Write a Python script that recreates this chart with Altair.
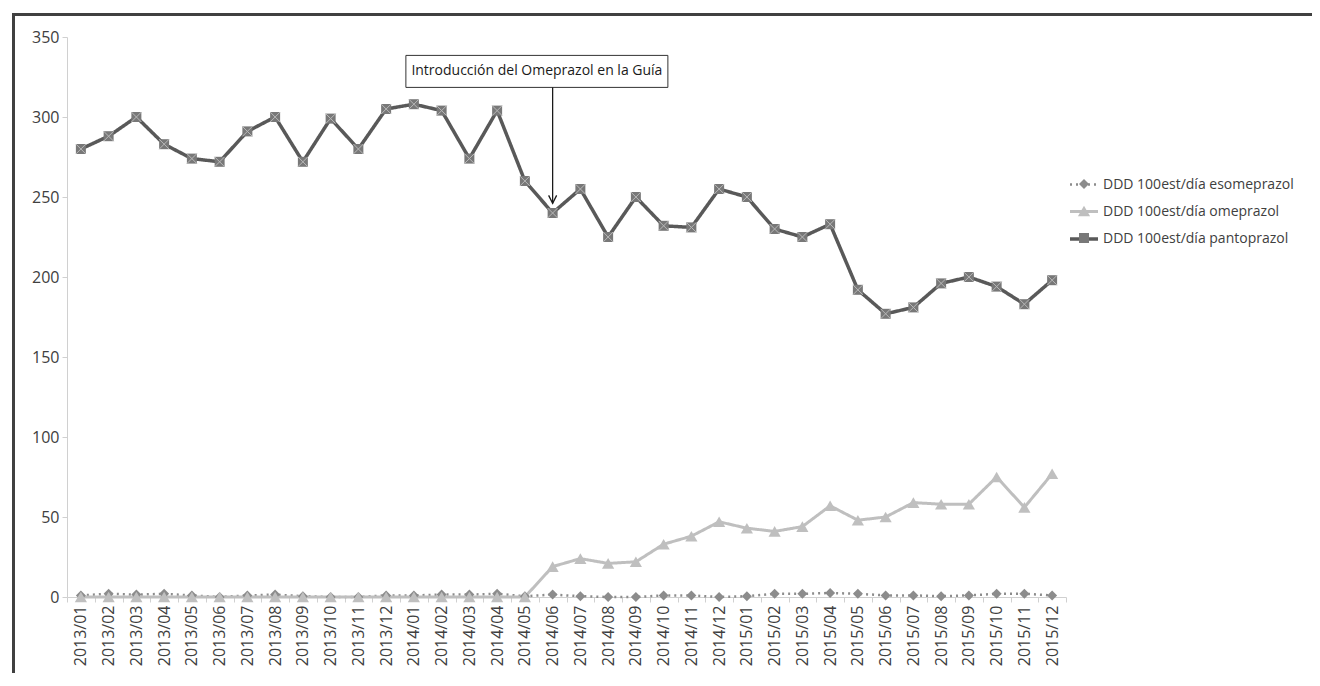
import altair as alt
import pandas as pd

months = ["2013/01", "2013/02", "2013/03", "2013/04", "2013/05", "2013/06",
          "2013/07", "2013/08", "2013/09", "2013/10", "2013/11", "2013/12",
          "2014/01", "2014/02", "2014/03", "2014/04", "2014/05", "2014/06",
          "2014/07", "2014/08", "2014/09", "2014/10", "2014/11", "2014/12",
          "2015/01", "2015/02", "2015/03", "2015/04", "2015/05", "2015/06",
          "2015/07", "2015/08", "2015/09", "2015/10", "2015/11", "2015/12"]

series_names = ["DDD 100est/día esomeprazol",
                "DDD 100est/día omeprazol",
                "DDD 100est/día pantoprazol"]

esomeprazol = [1, 2, 1.5, 2, 1, 0, 1, 1.5, 0.5, 0, 0, 1,
               1, 1.5, 1.5, 2, 0.5, 1.5, 0.5, 0, 0, 1, 1, 0,
               0.5, 2, 2, 2.5, 2, 1, 1, 0.5, 1, 2, 2, 1]
omeprazol = [0, 0, 0, 0, 0, 0, 0, 0, 0, 0, 0, 0,
             0, 0, 0, 0, 0, 19, 24, 21, 22, 33, 38, 47,
             43, 41, 44, 57, 48, 50, 59, 58, 58, 75, 56, 77]
pantoprazol = [280, 288, 300, 283, 274, 272, 291, 300, 272, 299, 280, 305,
               308, 304, 274, 304, 260, 240, 255, 225, 250, 232, 231, 255,
               250, 230, 225, 233, 192, 177, 181, 196, 200, 194, 183, 198]

y_ticks = [0, 50, 100, 150, 200, 250, 300, 350]

annotation_text = "Introducción del Omeprazol en la Guía"
annotation_month = "2014/05"
arrow_month = "2014/06"

FONT = "Open Sans"
line_colors = ["#8c8c8c", "#bfbfbf", "#595959"]
marker_colors = ["#8c8c8c", "#bfbfbf", "#787878"]
marker_shapes = ["diamond",
                 "M0,-1.06L1.22,1.06L-1.22,1.06Z",
                 "square"]

rows = []
for name, vals in zip(series_names, [esomeprazol, omeprazol, pantoprazol]):
    for m, v in zip(months, vals):
        rows.append({"mes": m, "serie": name, "valor": v})
df = pd.DataFrame(rows)

x_enc = alt.X("mes:N",
              scale=alt.Scale(domain=months, paddingInner=0, paddingOuter=0),
              axis=alt.Axis(title=None, labelAngle=-90, labelAlign="right",
                            labelBaseline="middle", labelFont=FONT,
                            labelFontSize=16, labelColor="#404040",
                            labelPadding=3, tickBand="extent", tickSize=5,
                            tickColor="#d0d0d0", domainColor="#d0d0d0",
                            grid=False))
y_scale = alt.Scale(domain=[0, 350])
y_enc = alt.Y("valor:Q", scale=y_scale,
              axis=alt.Axis(title=None, values=y_ticks, labelFont=FONT,
                            labelFontSize=16, labelColor="#404040",
                            labelPadding=3, tickSize=5, tickColor="#d0d0d0",
                            domainColor="#d0d0d0", grid=False))

legend_x = 1001
legend_y = 132

lines = alt.Chart(df).mark_line().encode(
    x=x_enc,
    y=y_enc,
    stroke=alt.Stroke("serie:N", scale=alt.Scale(range=line_colors),
                      legend=alt.Legend(title=None, orient="none",
                                        legendX=legend_x, legendY=legend_y,
                                        symbolType="stroke", symbolSize=784,
                                        symbolStrokeWidth=3, rowPadding=4,
                                        labelFont=FONT, labelFontSize=14,
                                        labelColor="#404040", labelOffset=3,
                                        labelLimit=400)),
    strokeDash=alt.StrokeDash("serie:N",
                              scale=alt.Scale(range=[[2, 4], [1, 0], [1, 0]])),
    strokeWidth=alt.StrokeWidth("serie:N",
                                scale=alt.Scale(range=[2.5, 3.5, 3.5]),
                                legend=None),
)

points = alt.Chart(df).transform_calculate(
    serie_m="datum.serie"
).mark_point(filled=True, opacity=1, size=100).encode(
    x=x_enc,
    y=y_enc,
    color=alt.Color("serie_m:N", scale=alt.Scale(range=marker_colors),
                    legend=alt.Legend(title=None, orient="none",
                                      legendX=legend_x + 9, legendY=legend_y + 8,
                                      symbolSize=100, rowPadding=13,
                                      labelFont=FONT, labelFontSize=14,
                                      labelExpr="''", labelOffset=6)),
    shape=alt.Shape("serie_m:N", scale=alt.Scale(range=marker_shapes)),
)

crosses = alt.Chart(df).transform_filter(
    alt.datum.serie == series_names[2]
).mark_point(shape="M-1,-1L1,1M1,-1L-1,1", filled=False, size=100,
             stroke="#b8b8b8", strokeWidth=1, opacity=1).encode(
    x=x_enc,
    y=y_enc,
)

ann_df = pd.DataFrame([{"mes": annotation_month, "y1": 338.5, "y2": 318.5,
                        "ym": 328.5, "txt": annotation_text}])
arrow_df = pd.DataFrame([{"mes": arrow_month, "y1": 318.5, "y2": 246}])

box = alt.Chart(ann_df).mark_bar(width=262, xOffset=12, fill="white",
                                 stroke="#333333", strokeWidth=1).encode(
    x=alt.X("mes:N", scale=alt.Scale(domain=months)),
    y=alt.Y("y1:Q", scale=y_scale),
    y2="y2:Q",
)
box_text = alt.Chart(ann_df).mark_text(font=FONT, fontSize=14, dx=12,
                                       color="#1a1a1a", align="center",
                                       baseline="middle").encode(
    x=alt.X("mes:N", scale=alt.Scale(domain=months)),
    y=alt.Y("ym:Q", scale=y_scale),
    text="txt:N",
)
arrow = alt.Chart(arrow_df).mark_rule(color="#1a1a1a", strokeWidth=1.3).encode(
    x=alt.X("mes:N", scale=alt.Scale(domain=months)),
    y=alt.Y("y1:Q", scale=y_scale),
    y2="y2:Q",
)
arrow_head = alt.Chart(arrow_df).mark_point(
    shape="M-0.5,-1L0,0L0.5,-1", filled=False, stroke="#1a1a1a",
    strokeWidth=1.3, size=256, opacity=1).encode(
    x=alt.X("mes:N", scale=alt.Scale(domain=months)),
    y=alt.Y("y2:Q", scale=y_scale),
)

frame_df = pd.DataFrame([{"k": 1}])
frame_top = alt.Chart(frame_df).mark_rule(color="#404040", strokeWidth=3).encode(
    x=alt.value(-55), x2=alt.value(1400), y=alt.value(-22.5),
)
frame_left = alt.Chart(frame_df).mark_rule(color="#404040", strokeWidth=3).encode(
    x=alt.value(-53.5), y=alt.value(-24), y2=alt.value(800),
)

chart = alt.layer(frame_top, frame_left, lines, points, crosses, box, box_text,
                  arrow, arrow_head).properties(
    width=999, height=560,
    autosize=alt.AutoSizeParams(type="none"),
    padding={"left": 59, "top": 29, "right": 246, "bottom": 76},
).configure_view(stroke="transparent")

chart.save("out.html", embed_options={"renderer": "svg", "actions": False})
